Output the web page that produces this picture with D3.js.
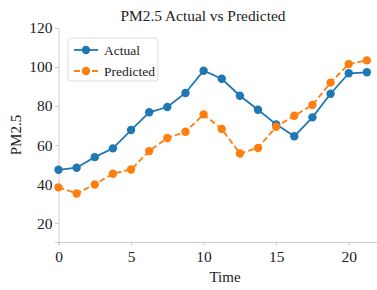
<!DOCTYPE html>
<html>
<head>
<meta charset="utf-8">
<script src="https://cdn.jsdelivr.net/npm/d3@7"></script>
<style>
  body { margin: 0; background: #fff; }
  text { font-family: "Liberation Serif", "DejaVu Serif", serif; fill: #222; }
</style>
</head>
<body>
<svg width="377" height="290"></svg>
<script>
var time = [0, 1.25, 2.5, 3.75, 5, 6.25, 7.5, 8.75, 10, 11.25, 12.5, 13.75, 15, 16.25, 17.5, 18.75, 20, 21.25];
var actual = [47.3, 48.4, 53.8, 58.3, 67.7, 76.8, 79.5, 86.7, 98.1, 94.0, 85.3, 78.1, 70.6, 64.5, 74.2, 86.3, 96.8, 97.3];
var predicted = [38.3, 35.2, 39.8, 45.3, 47.5, 56.9, 63.6, 66.8, 75.7, 68.2, 55.7, 58.5, 69.4, 75.0, 80.5, 92.0, 101.5, 103.4];
var xTicks = [0, 5, 10, 15, 20];
var yTicks = [20, 40, 60, 80, 100, 120];

var margins = { top: 28, bottom: 48, left: 58.5, right: 0 };
var svg = d3.select("svg");
var svgWidth = +svg.attr("width");
var svgHeight = +svg.attr("height");

var xScale = d3.scaleLinear([0, 21.95], [margins.left, svgWidth - margins.right]);
var yScale = d3.scaleLinear([10.3, 120], [svgHeight - margins.bottom, margins.top]);

var axisColor = "#cccccc";

// axes
var xAxis = svg.append("g")
  .attr("transform", `translate(0, ${svgHeight - margins.bottom})`)
  .call(d3.axisBottom(xScale).tickValues(xTicks).tickSize(3.5).tickPadding(5));
var yAxis = svg.append("g")
  .attr("transform", `translate(${margins.left}, 0)`)
  .call(d3.axisLeft(yScale).tickValues(yTicks).tickSize(3.5).tickPadding(2.5));

[xAxis, yAxis].forEach(function (a) {
  a.attr("font-family", "'Liberation Serif', serif").attr("font-size", 15.5);
  a.select(".domain").attr("stroke", axisColor).attr("stroke-width", 1);
  a.selectAll(".tick line").attr("stroke", axisColor);
  a.selectAll(".tick text").attr("fill", "#222");
});

// labels
svg.append("text")
  .attr("x", 203).attr("y", 21)
  .attr("text-anchor", "middle")
  .style("font-size", "15.4px")
  .text("PM2.5 Actual vs Predicted");

svg.append("text")
  .attr("x", 225).attr("y", 282)
  .attr("text-anchor", "middle")
  .style("font-size", "15px")
  .text("Time");

svg.append("text")
  .attr("transform", `translate(21, ${(margins.top + svgHeight - margins.bottom) / 2}) rotate(-90)`)
  .attr("text-anchor", "middle")
  .style("font-size", "15px")
  .text("PM2.5");

var series = [
  { name: "Actual", values: actual, color: "#1f77b4", dash: null },
  { name: "Predicted", values: predicted, color: "#ff7f0e", dash: "6,3" }
];

var line = d3.line()
  .x(function (d) { return xScale(d[0]); })
  .y(function (d) { return yScale(d[1]); });

series.forEach(function (s) {
  var pts = time.map(function (t, i) { return [t, s.values[i]]; });
  svg.append("path")
    .datum(pts)
    .attr("fill", "none")
    .attr("stroke", s.color)
    .attr("stroke-width", 1.8)
    .attr("stroke-dasharray", s.dash)
    .attr("d", line);
  svg.append("g").selectAll("circle")
    .data(pts)
    .join("circle")
    .attr("cx", function (d) { return xScale(d[0]); })
    .attr("cy", function (d) { return yScale(d[1]); })
    .attr("r", 4.2)
    .attr("fill", s.color);
});

// legend
var legend = svg.append("g").attr("transform", "translate(68, 38)");
legend.append("rect")
  .attr("width", 90).attr("height", 43)
  .attr("rx", 3)
  .attr("fill", "#fff")
  .attr("fill-opacity", 0.8)
  .attr("stroke", "#dddddd");
series.forEach(function (s, i) {
  var y = 12 + i * 21;
  legend.append("line")
    .attr("x1", 6).attr("x2", 30).attr("y1", y).attr("y2", y)
    .attr("stroke", s.color).attr("stroke-width", 1.8)
    .attr("stroke-dasharray", s.dash);
  legend.append("circle").attr("cx", 18).attr("cy", y).attr("r", 4.2).attr("fill", s.color);
  legend.append("text")
    .attr("x", 36).attr("y", y + 4.5)
    .style("font-size", "13.5px")
    .text(s.name);
});
</script>
</body>
</html>
